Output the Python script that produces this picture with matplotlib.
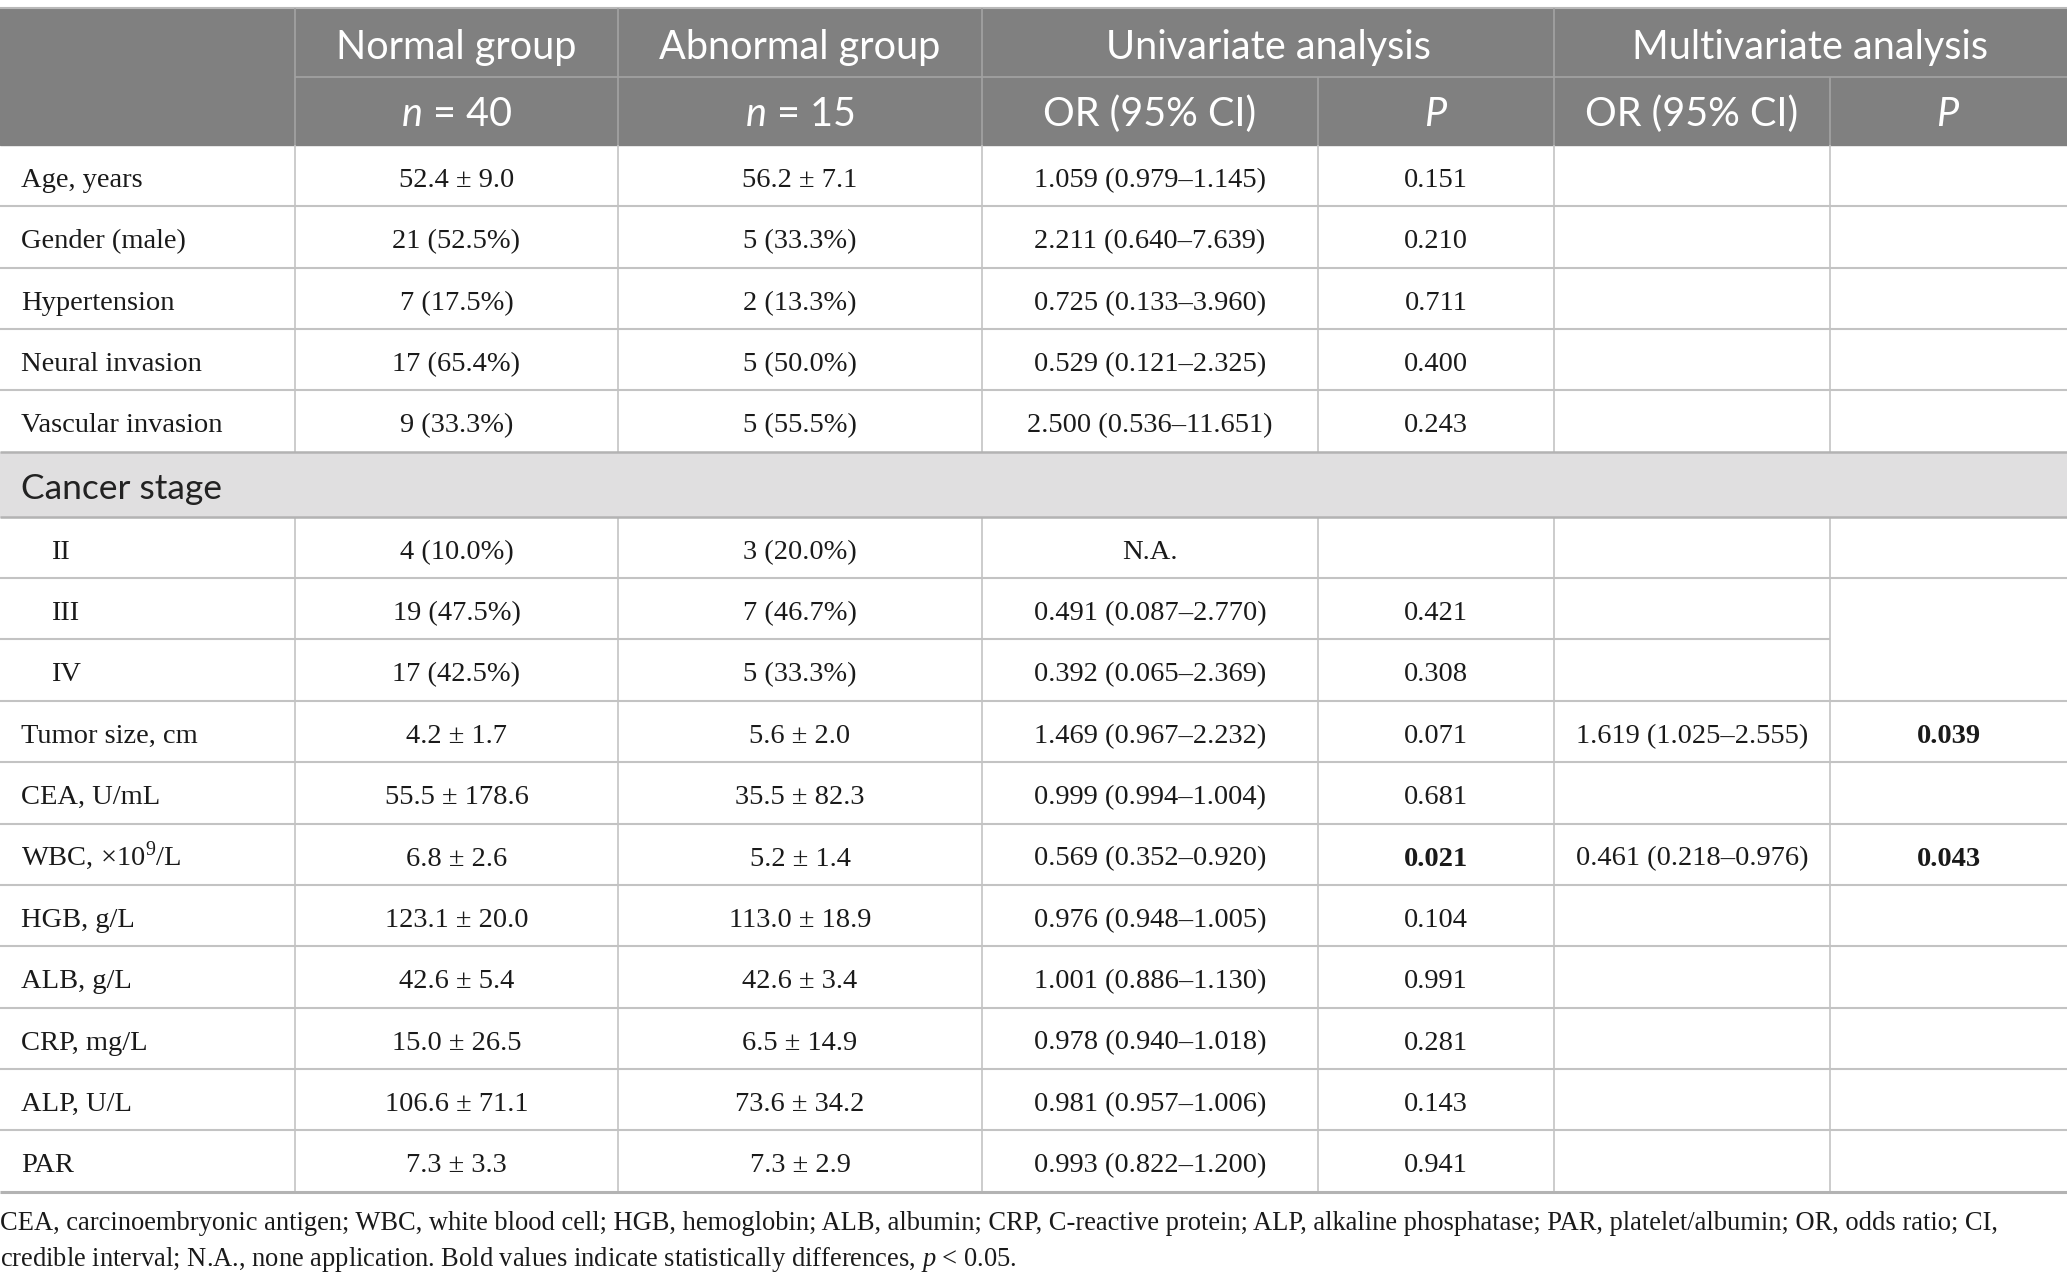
import matplotlib
matplotlib.use("Agg")
import matplotlib.pyplot as plt
from matplotlib.patches import Rectangle

plt.rcParams['mathtext.fontset'] = 'custom'
plt.rcParams['mathtext.rm'] = 'Liberation Serif'
plt.rcParams['mathtext.it'] = 'Lato:italic'
plt.rcParams['mathtext.cal'] = 'Liberation Serif:italic'

# Table content
head_top = ["Normal group", "Abnormal group", "Univariate analysis", "Multivariate analysis"]
head_sub = ["$n$ = 40", "$n$ = 15", "OR (95% CI)", "$P$", "OR (95% CI)", "$P$"]

labels = ["Age, years", "Gender (male)", "Hypertension", "Neural invasion",
          "Vascular invasion", "Cancer stage", "II", "III", "IV", "Tumor size, cm",
          "CEA, U/mL", "WBC, ×10$^9$/L", "HGB, g/L", "ALB, g/L", "CRP, mg/L",
          "ALP, U/L", "PAR"]
normal = ["52.4 ± 9.0", "21 (52.5%)", "7 (17.5%)", "17 (65.4%)", "9 (33.3%)", "",
          "4 (10.0%)", "19 (47.5%)", "17 (42.5%)", "4.2 ± 1.7", "55.5 ± 178.6",
          "6.8 ± 2.6", "123.1 ± 20.0", "42.6 ± 5.4", "15.0 ± 26.5", "106.6 ± 71.1",
          "7.3 ± 3.3"]
abnormal = ["56.2 ± 7.1", "5 (33.3%)", "2 (13.3%)", "5 (50.0%)", "5 (55.5%)", "",
            "3 (20.0%)", "7 (46.7%)", "5 (33.3%)", "5.6 ± 2.0", "35.5 ± 82.3",
            "5.2 ± 1.4", "113.0 ± 18.9", "42.6 ± 3.4", "6.5 ± 14.9", "73.6 ± 34.2",
            "7.3 ± 2.9"]
uni_or = ["1.059 (0.979–1.145)", "2.211 (0.640–7.639)", "0.725 (0.133–3.960)",
          "0.529 (0.121–2.325)", "2.500 (0.536–11.651)", "", "N.A.",
          "0.491 (0.087–2.770)", "0.392 (0.065–2.369)", "1.469 (0.967–2.232)",
          "0.999 (0.994–1.004)", "0.569 (0.352–0.920)", "0.976 (0.948–1.005)",
          "1.001 (0.886–1.130)", "0.978 (0.940–1.018)", "0.981 (0.957–1.006)",
          "0.993 (0.822–1.200)"]
uni_p = ["0.151", "0.210", "0.711", "0.400", "0.243", "", "", "0.421", "0.308",
         "0.071", "0.681", "0.021", "0.104", "0.991", "0.281", "0.143", "0.941"]
multi_or = ["", "", "", "", "", "", "", "", "", "1.619 (1.025–2.555)", "",
            "0.461 (0.218–0.976)", "", "", "", "", ""]
multi_p = ["", "", "", "", "", "", "", "", "", "0.039", "", "0.043", "", "", "", "", ""]
bold_uni_p = ["0.021"]
bold_multi_p = ["0.039", "0.043"]

footnote = ["CEA, carcinoembryonic antigen; WBC, white blood cell; HGB, hemoglobin; ALB, albumin; "
            "CRP, C-reactive protein; ALP, alkaline phosphatase; PAR, platelet/albumin; OR, odds ratio; CI,",
            "credible interval; N.A., none application. Bold values indicate statistically differences, "
            "$\\mathcal{p}$ < 0.05."]

# Layout (pixels)
W, H = 2067, 1286
col_x = [0, 295, 618, 982, 1318, 1554, 1830, 2067]
y_top, y_h1, y_h2 = 8, 77, 145
row_h = 61.35
band_h = 65

row_tops = []
y = y_h2
for lab in labels:
    row_tops.append(y)
    y += band_h if lab == "Cancer stage" else row_h
y_bottom = y

fig = plt.figure(figsize=(W / 100, H / 100), dpi=100)
ax = fig.add_axes([0, 0, 1, 1])
ax.set_xlim(0, W)
ax.set_ylim(H, 0)
ax.axis("off")

head_bg = "#808080"
head_line = "#a3a3a3"
grid = "#c3c3c3"
band_bg = "#e0dfe0"
txt = "#1a1a1a"
serif = "Liberation Serif"
sans = "Lato"
fs_body = 20.5
fs_head = 28.5

# header background
ax.add_patch(Rectangle((0, y_top), W, y_h2 - y_top, color=head_bg, zorder=0))
ax.hlines(y_top, 0, W, color="#b8b8b8", lw=1.5)
ax.hlines(y_h1, col_x[1], W, color=head_line, lw=1.2)
for x in [col_x[1], col_x[2], col_x[3], col_x[5]]:
    ax.vlines(x, y_top, y_h2, color=head_line, lw=1.2)
for x in [col_x[4], col_x[6]]:
    ax.vlines(x, y_h1, y_h2, color=head_line, lw=1.2)

# header text
top_spans = [(1, 2), (2, 3), (3, 5), (5, 7)]
for t, (a, b) in zip(head_top, top_spans):
    ax.text((col_x[a] + col_x[b]) / 2, 59, t, ha="center", va="baseline",
            fontsize=fs_head, color="white", family=sans)
for i, t in enumerate(head_sub):
    ax.text((col_x[i + 1] + col_x[i + 2]) / 2, 126, t, ha="center", va="baseline",
            fontsize=fs_head, color="white", family=sans)

# body
for r, lab in enumerate(labels):
    top = row_tops[r]
    if lab == "Cancer stage":
        ax.add_patch(Rectangle((0, top), W, band_h, color=band_bg, zorder=0))
        ax.hlines([top, top + band_h], 0, W, color="#b3b3b3", lw=1.8, zorder=2)
        ax.text(21, top + 47, lab, ha="left", va="baseline", fontsize=25.5,
                color="#222222", family=sans)
        continue
    base = top + 42
    indent = 51 if lab in ("II", "III", "IV") else 21
    ax.text(indent, base, lab, ha="left", va="baseline", fontsize=fs_body,
            color=txt, family=serif)
    cells = [normal[r], abnormal[r], uni_or[r], uni_p[r], multi_or[r], multi_p[r]]
    for c, val in enumerate(cells):
        if not val:
            continue
        bold = (c == 3 and val in bold_uni_p) or (c == 5 and val in bold_multi_p)
        ax.text((col_x[c + 1] + col_x[c + 2]) / 2, base, val, ha="center",
                va="baseline", fontsize=fs_body, color=txt, family=serif,
                fontweight="bold" if bold else "normal")
    # vertical lines
    for x in col_x[1:-1]:
        ax.vlines(x, top, top + row_h, color=grid, lw=1.2, zorder=1)
    # bottom line of row (last column merged for III/IV)
    if lab == "III":
        ax.hlines(top + row_h, 0, col_x[6], color=grid, lw=1.5, zorder=1)
    elif r < len(labels) - 1 and labels[r + 1] != "Cancer stage":
        ax.hlines(top + row_h, 0, W, color=grid, lw=1.5, zorder=1)

ax.hlines(y_bottom, 0, W, color="#b3b3b3", lw=2.2, zorder=2)

# footnote
ax.text(0, 1230, footnote[0], ha="left", va="baseline", fontsize=19.1,
        color=txt, family=serif)
ax.text(0, 1266, footnote[1], ha="left", va="baseline", fontsize=19.1,
        color=txt, family=serif)

fig.savefig("out.png", dpi=100)
